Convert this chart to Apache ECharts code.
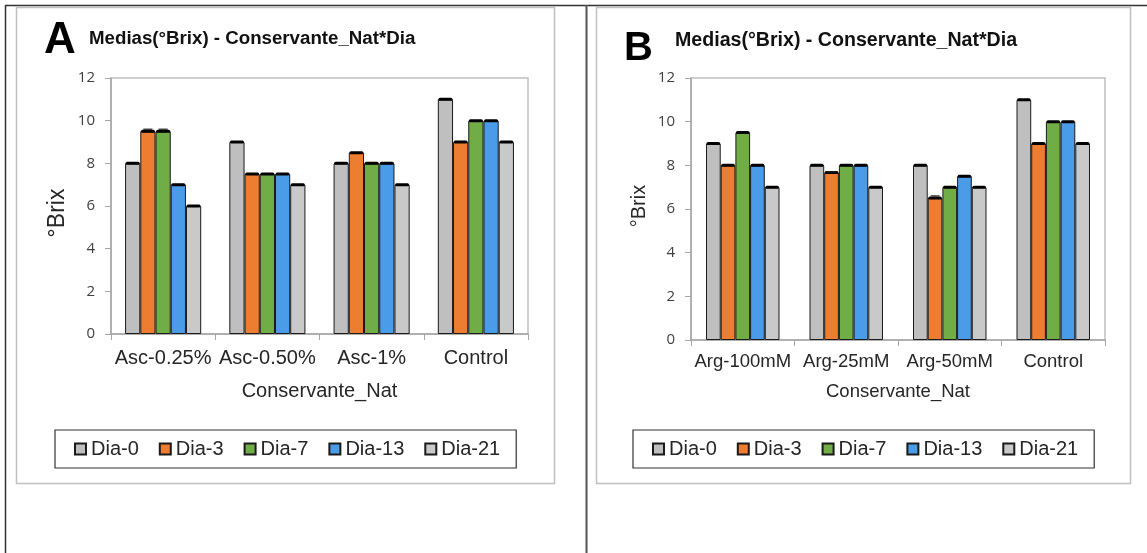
<!DOCTYPE html>
<html>
<head>
<meta charset="utf-8">
<script src="https://cdn.jsdelivr.net/npm/echarts@6/dist/echarts.min.js"></script>
<style>html,body{margin:0;padding:0;background:#fff;}#c{width:1147px;height:553px;}</style>
</head>
<body>
<div id="c"></div>
<script>
// ---- data ----
const categoriesA = ['Asc-0.25%', 'Asc-0.50%', 'Asc-1%', 'Control'];
const categoriesB = ['Arg-100mM', 'Arg-25mM', 'Arg-50mM', 'Control'];
const seriesNames = ['Dia-0', 'Dia-3', 'Dia-7', 'Dia-13', 'Dia-21'];
const yTicks = [0, 2, 4, 6, 8, 10, 12];

const aDia0 = [8, 9, 8, 11];
const aDia3 = [9.5, 7.5, 8.5, 9];
const aDia7 = [9.5, 7.5, 8, 10];
const aDia13 = [7, 7.5, 8, 10];
const aDia21 = [6, 7, 7, 9];

const bDia0 = [9, 8, 8, 11];
const bDia3 = [8, 7.67, 6.5, 9];
const bDia7 = [9.5, 8, 7, 10];
const bDia13 = [8, 8, 7.5, 10];
const bDia21 = [7, 7, 7, 9];

const aErr0 = [0, 0, 0, 0];
const aErr3 = [0.1, 0, 0, 0];
const aErr7 = [0.1, 0, 0, 0];
const aErr13 = [0, 0, 0, 0];
const aErr21 = [0, 0, 0, 0];

const bErr0 = [0, 0, 0, 0];
const bErr3 = [0, 0.03, 0.1, 0];
const bErr7 = [0, 0, 0, 0];
const bErr13 = [0, 0, 0, 0];
const bErr21 = [0, 0, 0, 0];

// ---- style ----
const colors = ['#bfbfbf', '#ed7d31', '#70ad47', '#4a9be8', '#c9c9c9'];
const gapA = 0.27, gapB = 0.29;
const ARIAL = 'Liberation Sans, Arial, sans-serif';
const TICKF = 'Open Sans, sans-serif';

const valsA = [aDia0, aDia3, aDia7, aDia13, aDia21];
const valsB = [bDia0, bDia3, bDia7, bDia13, bDia21];
const errsA = [aErr0, aErr3, aErr7, aErr13, aErr21];
const errsB = [bErr0, bErr3, bErr7, bErr13, bErr21];

function errData(vals, errs) {
  const out = [];
  vals.forEach((arr, s) => arr.forEach((v, c) => out.push([c, s, v, errs[s][c]])));
  return out;
}

function makeErr(gap) {
  return function (params, api) {
    const cat = api.value(0), s = api.value(1), v = api.value(2), e = api.value(3);
    const band = api.size([1, 0])[0];
    const p = api.coord([cat, v]);
    const groupW = band * (1 - gap);
    const bw = groupW / 5;
    const x = p[0] - groupW / 2 + bw * (s + 0.5);
    const children = [{
      type: 'line',
      shape: { x1: x - bw * 0.36, y1: p[1], x2: x + bw * 0.36, y2: p[1] },
      style: { stroke: '#000', lineWidth: 3, lineCap: 'round' }
    }];
    if (e > 0) {
      const yt = api.coord([cat, v + e])[1];
      children.push({ type: 'line', shape: { x1: x, y1: p[1], x2: x, y2: yt }, style: { stroke: '#222', lineWidth: 1 } });
      children.push({ type: 'line', shape: { x1: x - bw * 0.3, y1: yt, x2: x + bw * 0.3, y2: yt }, style: { stroke: '#222', lineWidth: 1.2 } });
    }
    return { type: 'group', children: children };
  };
}

function barSeries(vals, axisIdx, gap) {
  return vals.map((arr, i) => ({
    name: seriesNames[i],
    type: 'bar',
    xAxisIndex: axisIdx,
    yAxisIndex: axisIdx,
    data: arr,
    barGap: '0%',
    barCategoryGap: (gap * 100) + '%',
    itemStyle: { color: colors[i], borderColor: '#1a1a1a', borderWidth: 1 },
    emphasis: { disabled: true }
  }));
}

function xAxis(idx, cats, fs, margin, nameGap) {
  return {
    type: 'category', gridIndex: idx, data: cats,
    axisLine: { lineStyle: { color: '#a6a6a6', width: 1.5 } },
    axisTick: { show: true, length: 6, lineStyle: { color: '#a6a6a6' } },
    axisLabel: { interval: 0, fontSize: fs, color: '#262626', fontFamily: ARIAL, margin: margin, hideOverlap: false },
    name: 'Conservante_Nat', nameLocation: 'middle', nameGap: nameGap,
    nameTextStyle: { fontSize: fs, color: '#262626', fontFamily: ARIAL },
    splitLine: { show: false }
  };
}

function yAxis(idx, fs, pad) {
  return {
    type: 'value', gridIndex: idx, min: yTicks[0], max: yTicks[yTicks.length - 1], interval: 2,
    axisLine: { show: true, lineStyle: { color: '#a6a6a6', width: 1.5 } },
    axisTick: { show: true, length: 6, lineStyle: { color: '#a6a6a6' } },
    axisLabel: { fontSize: 15, color: '#404040', fontFamily: TICKF, margin: 16 },
    splitLine: { show: false },
    name: '°Brix', nameLocation: 'middle', nameRotate: 90, nameGap: 42,
    nameTextStyle: { fontSize: fs, color: '#262626', fontFamily: ARIAL, padding: pad }
  };
}

function legend(left) {
  return {
    left: left, top: 430, orient: 'horizontal',
    itemWidth: 11, itemHeight: 11, itemGap: 20,
    padding: [9, 16, 9, 19],
    borderColor: '#333', borderWidth: 1.2,
    icon: 'rect',
    selectedMode: false,
    textStyle: { fontSize: 20, color: '#262626', fontFamily: ARIAL },
    data: seriesNames
  };
}

const chart = echarts.init(document.getElementById('c'), null, { renderer: 'canvas' });
chart.setOption({
  animation: false,
  backgroundColor: '#fff',
  graphic: [
    { type: 'line', shape: { x1: 5, y1: 5.5, x2: 1147, y2: 5.5 }, style: { stroke: '#333', lineWidth: 1.5 } },
    { type: 'line', shape: { x1: 5.5, y1: 5, x2: 5.5, y2: 553 }, style: { stroke: '#333', lineWidth: 1.5 } },
    { type: 'line', shape: { x1: 586.5, y1: 5, x2: 586.5, y2: 553 }, style: { stroke: '#555', lineWidth: 2 } },
    { type: 'rect', shape: { x: 16.5, y: 7.5, width: 538, height: 476 }, style: { fill: null, stroke: '#c0c0c0', lineWidth: 1.5 } },
    { type: 'rect', shape: { x: 596.5, y: 7.5, width: 534, height: 476 }, style: { fill: null, stroke: '#c0c0c0', lineWidth: 1.5 } },
    { type: 'text', x: 44, y: 41, style: { text: 'A', font: 'bold 44px ' + ARIAL, fill: '#000', textVerticalAlign: 'middle' } },
    { type: 'text', x: 89, y: 39, style: { text: 'Medias(°Brix) - Conservante_Nat*Dia', font: 'bold 18.7px ' + ARIAL, fill: '#111', textVerticalAlign: 'middle' } },
    { type: 'text', x: 624, y: 48.5, style: { text: 'B', font: 'bold 40px ' + ARIAL, fill: '#000', textVerticalAlign: 'middle' } },
    { type: 'text', x: 675, y: 40.5, style: { text: 'Medias(°Brix) - Conservante_Nat*Dia', font: 'bold 19.6px ' + ARIAL, fill: '#111', textVerticalAlign: 'middle' } }
  ],
  grid: [
    { left: 111, top: 78, width: 417, height: 256, show: true, borderColor: '#c0c0c0', borderWidth: 1.5, backgroundColor: 'transparent', containLabel: false },
    { left: 691, top: 78, width: 414, height: 262, show: true, borderColor: '#c0c0c0', borderWidth: 1.5, backgroundColor: 'transparent', containLabel: false }
  ],
  xAxis: [xAxis(0, categoriesA, 20, 14, 47), xAxis(1, categoriesB, 18.5, 12, 42)],
  yAxis: [yAxis(0, 23, [0, 14, 0, 0]), yAxis(1, 20, [0, 0, 0, 6])],
  legend: [legend(55), legend(633)],
  series: [].concat(
    barSeries(valsA, 0, gapA),
    barSeries(valsB, 1, gapB),
    [
      { name: 'errA', type: 'custom', xAxisIndex: 0, yAxisIndex: 0, data: errData(valsA, errsA), renderItem: makeErr(gapA), encode: { x: 0, y: 2 }, clip: false, z: 5, silent: true },
      { name: 'errB', type: 'custom', xAxisIndex: 1, yAxisIndex: 1, data: errData(valsB, errsB), renderItem: makeErr(gapB), encode: { x: 0, y: 2 }, clip: false, z: 5, silent: true }
    ]
  )
});
</script>
</body>
</html>
